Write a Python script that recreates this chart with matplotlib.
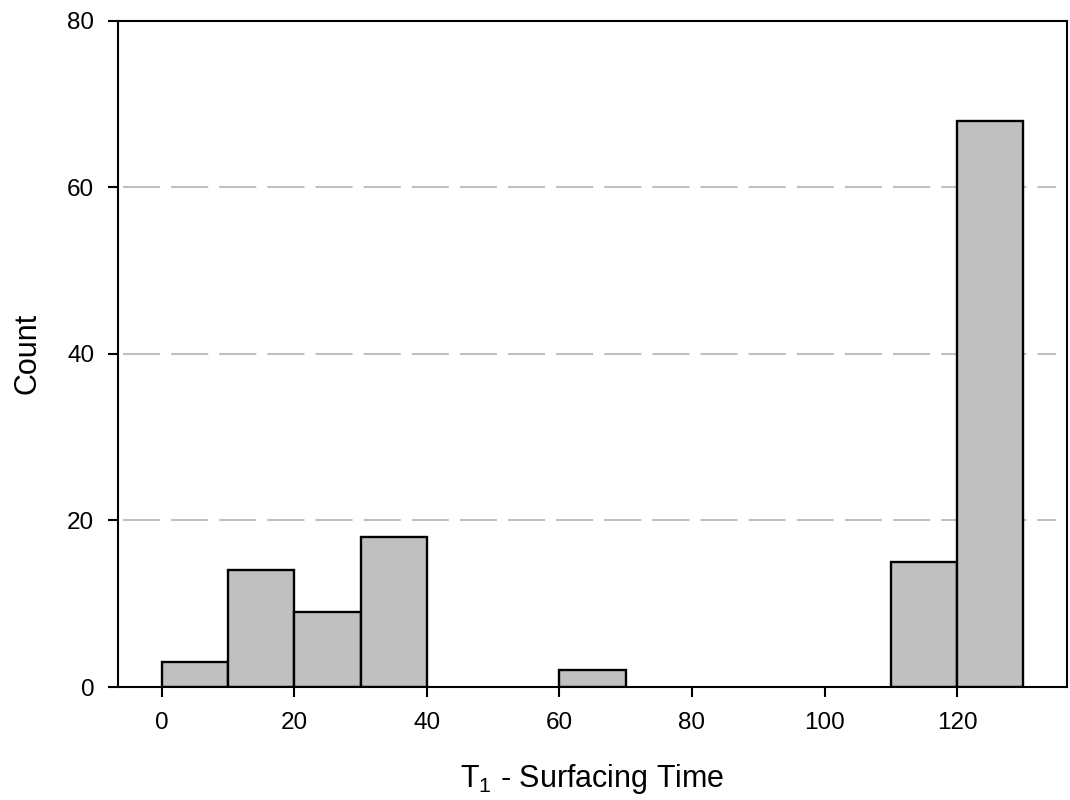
import numpy as np
import matplotlib.pyplot as plt

plt.rcParams['font.family'] = ['Liberation Sans', 'DejaVu Sans']
plt.rcParams['mathtext.default'] = 'regular'

# histogram of surfacing times, bins 10 wide
bin_left = [0, 10, 20, 30, 60, 110, 120]
counts = [3, 14, 9, 18, 2, 15, 68]
bin_width = 10

fig = plt.figure(figsize=(10.7, 8), dpi=100)
ax = fig.add_axes([0.1103, 0.14125, 0.887, 0.8329])

for y in [20, 40, 60]:
    ax.axhline(y, xmin=0.005, xmax=0.988, color='#c0c0c0', lw=1.5,
               dashes=(17.8, 5.3), zorder=0)

ax.bar(bin_left, counts, width=bin_width, align='edge',
       color='#c0c0c0', edgecolor='black', linewidth=1.7, zorder=2)

ax.set_xlim(-6.6, 136.6)
ax.set_ylim(0, 80)
ax.set_xticks(np.arange(0, 121, 20))
ax.set_yticks(np.arange(0, 81, 20))
ax.tick_params(direction='out', length=7.2, width=1.5, labelsize=17.5)
ax.tick_params(axis='x', pad=11)
ax.tick_params(axis='y', pad=10)
for s in ax.spines.values():
    s.set_linewidth(1.5)

ax.set_xlabel('T$_1$ - Surfacing Time', fontsize=22, labelpad=20)
ax.set_ylabel('Count', fontsize=22, labelpad=18)

fig.savefig('out.png', dpi=100)
